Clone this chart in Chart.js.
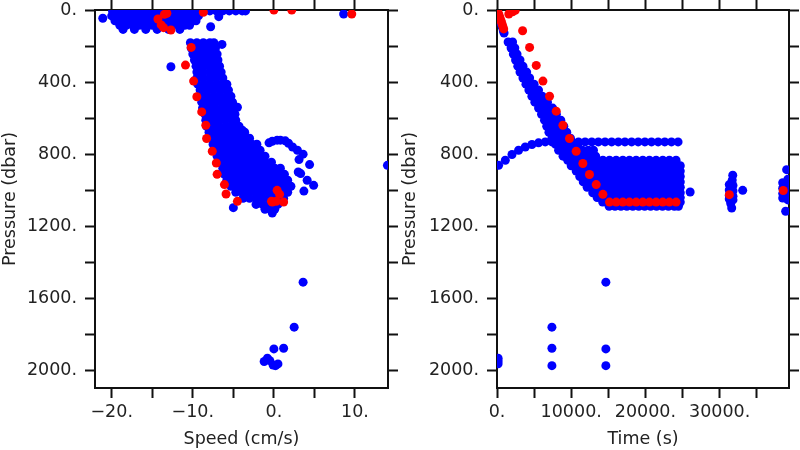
<!DOCTYPE html>
<html>
<head>
<meta charset="utf-8">
<script src="https://cdn.jsdelivr.net/npm/chart.js@4.4.1/dist/chart.umd.min.js"></script>
<style>
  body { margin: 0; background: #fff; }
  .panel { position: absolute; top: 0; width: 400px; height: 450px; }
</style>
</head>
<body>
<div class="panel" style="left:0"><canvas id="speedChart" width="400" height="450"></canvas></div>
<div class="panel" style="left:400px"><canvas id="timeChart" width="400" height="450"></canvas></div>
<script>
// tick marks
const pressureTicks = [0, 200, 400, 600, 800, 1000, 1200, 1400, 1600, 1800, 2000];
const speedTicks = [-20, -15, -10, -5, 0, 5, 10];
const timeTicks = [0, 5000, 10000, 15000, 20000, 25000, 30000, 35000];

// ---- left panel: speed vs pressure ----
// rows: [pressure, speed, speed, ...]
const surfaceRows = [
  [5, -19.9, -19.1, -18.3, -17.5, -16.7, -15.9, -15.1, -14.3, -13.5, -12.7, -11.9, -11.1, -10.3, -9.5, -8.7, -7.9, -7.1, -6.3, -5.5, -4.7, -3.9, -3.5],
  [33, -20.0, -19.2, -18.4, -17.6, -16.8, -16.0, -15.2, -14.4, -13.6, -12.8, -12.0, -11.2, -10.4, -9.6, -9.3],
  [60, -19.6, -18.8, -18.0, -17.2, -16.4, -15.6, -14.8, -14.0, -13.2, -12.4, -11.6, -10.8, -10.0, -9.6],
  [85, -19.0, -18.2, -17.4, -16.6, -15.8, -15.0, -14.2, -13.4, -12.6, -11.8, -11.0, -10.4],
  [108, -18.6, -17.2, -15.8, -14.4, -13.0, -11.6]
];
const columnRows = [
  [182, -10.3, -9.5, -8.7, -7.9, -7.4],
  [211, -10.2, -9.4, -8.6, -7.8, -7.2],
  [245, -10.0, -9.2, -8.4, -7.6, -7.0],
  [278, -9.8, -9.0, -8.2, -7.4, -6.9],
  [312, -9.6, -8.8, -8.0, -7.2, -6.7],
  [345, -9.5, -8.7, -7.9, -7.1, -6.5],
  [378, -9.5, -8.7, -7.9, -7.1, -6.3],
  [412, -9.4, -8.6, -7.8, -7.0, -6.2, -5.8],
  [445, -9.1, -8.3, -7.5, -6.7, -5.9, -5.6],
  [479, -9.0, -8.2, -7.4, -6.6, -5.8, -5.3],
  [512, -8.9, -8.1, -7.3, -6.5, -5.7, -5.1],
  [545, -8.8, -8.0, -7.2, -6.4, -5.6, -4.9],
  [579, -8.5, -7.7, -6.9, -6.1, -5.3, -4.8],
  [612, -8.4, -7.6, -6.8, -6.0, -5.2, -4.7],
  [646, -8.3, -7.5, -6.7, -5.9, -5.1, -4.3],
  [679, -8.0, -7.2, -6.4, -5.6, -4.8, -4.0, -3.6],
  [712, -7.8, -7.0, -6.2, -5.4, -4.6, -3.8, -3.0],
  [746, -7.5, -6.7, -5.9, -5.1, -4.3, -3.5, -2.7, -2.1],
  [779, -7.3, -6.5, -5.7, -4.9, -4.1, -3.3, -2.5, -1.7],
  [812, -7.0, -6.2, -5.4, -4.6, -3.8, -3.0, -2.2, -1.4, -1.1],
  [846, -6.7, -5.9, -5.1, -4.3, -3.5, -2.7, -1.9, -1.1, -0.3],
  [879, -6.3, -5.5, -4.7, -3.9, -3.1, -2.3, -1.5, -0.7, 0.1, 0.8],
  [913, -6.1, -5.3, -4.5, -3.7, -2.9, -2.1, -1.3, -0.5, 0.3, 1.1, 1.3],
  [946, -5.8, -5.0, -4.2, -3.4, -2.6, -1.8, -1.0, -0.2, 0.6, 1.4, 1.7],
  [979, -5.3, -4.5, -3.7, -2.9, -2.1, -1.3, -0.5, 0.3, 1.1, 1.9, 2.1],
  [1013, -4.7, -3.9, -3.1, -2.3, -1.5, -0.7, 0.1, 0.9, 1.7],
  [1046, -3.8, -3.0, -2.2, -1.4, -0.6, 0.2, 1.0, 1.2],
  [1080, -2.2, -1.4, -0.6, 0.2, 0.5],
  [1107, -1.1, -0.3, 0.1]
];
const speedExtraX = [-21.1, -7.8, -6.8, 8.6, -12.7, -6.4, -4.5, -3.9, -0.6, -0.2, 0.4, 0.8, 1.4, 1.8, 2.3, 2.9, 3.6, 3.1, 3.0, 4.4, 3.3, 4.1, 4.9, 3.7, 14.0, -5.0, -0.2];
const speedExtraP = [46, 93, 37, 22, 315, 191, 540, 668, 738, 729, 723, 723, 727, 740, 761, 779, 801, 831, 900, 859, 909, 946, 974, 1006, 863, 1098, 1128];
const speedDeepX = [3.6, 2.5, 1.2, 0.0, -1.2, -0.8, -0.5, -0.1, 0.5, 0.2];
const speedDeepP = [1512, 1762, 1879, 1883, 1953, 1935, 1948, 1972, 1966, 1976];
const speedRedX = [-14.3, -13.5, -13.2, -13.9, -13.6, -12.7, -8.7, 0, 2.2, 9.6,
  -10.2, -10.9, -9.9, -9.5, -8.9, -8.4, -8.3, -7.6, -7.1, -7.0, -6.1, -5.9, -4.5,
  0.4, 0.7, -0.2, 0.3, 1.2, -0.3];
const speedRedP = [50, 24, 18, 83, 98, 111, 13, 0, 0, 22,
  208, 306, 395, 482, 566, 640, 714, 785, 850, 913, 970, 1022, 1063,
  1002, 1024, 1067, 1063, 1067, 1063];

// ---- right panel: time vs pressure ----
// rows: [pressure, time, time, ...]
const bandRows = [
  [178, 1500, 2100],
  [211, 1900, 2400],
  [245, 2200, 2700],
  [278, 2500, 3100],
  [312, 2800, 3500],
  [345, 3100, 3700, 4000],
  [378, 3500, 4100, 4400],
  [412, 3900, 4500, 5000],
  [445, 4300, 5000, 5600],
  [479, 4700, 5400, 6100],
  [512, 5100, 5900, 6800],
  [545, 5600, 6300, 7000, 7500],
  [579, 6000, 6700, 7400, 8000],
  [612, 6400, 7100, 7800, 8600],
  [646, 6700, 7500, 8300, 9000],
  [679, 7000, 7800, 8600, 9400],
  [712, 7400, 8200, 9000, 9900],
  [746, 7900, 8700, 9500, 10300, 10900],
  [779, 8300, 9100, 9900, 10700, 11500, 12300, 13000],
  [812, 8900, 9700, 10500, 11300, 12100, 12900, 13300]
];
const blobRows = [
  [835, 9530, 10300, 11100, 11900, 12700, 13500, 14270, 15160, 16060, 16960, 17850, 18750, 19650, 20540, 21440, 22340, 23230, 24130],
  [865, 10000, 10800, 11600, 12400, 13200, 14000, 14800, 15600, 16400, 17200, 18000, 18800, 19600, 20400, 21200, 22000, 22800, 23600, 24300, 24700],
  [895, 10670, 11570, 12460, 13370, 14270, 15160, 16060, 16960, 17850, 18750, 19650, 20540, 21440, 22340, 23230, 24130, 24700],
  [925, 11150, 11900, 12700, 13500, 14300, 15100, 15900, 16700, 17500, 18300, 19100, 19900, 20700, 21500, 22300, 23100, 23900, 24700],
  [955, 11620, 12460, 13370, 14270, 15160, 16060, 16960, 17850, 18750, 19650, 20540, 21440, 22340, 23230, 24130, 24700],
  [985, 12150, 12900, 13700, 14500, 15300, 16100, 16900, 17700, 18500, 19300, 20100, 20900, 21700, 22500, 23300, 24100, 24700],
  [1015, 12900, 13370, 14270, 15160, 16060, 16960, 17850, 18750, 19650, 20540, 21440, 22340, 23230, 24130, 24700],
  [1042, 13500, 14300, 15100, 15900, 16700, 17500, 18300, 19100, 19900, 20700, 21500, 22300, 23100, 23900, 24700],
  [1067, 14240, 15160, 16060, 16960, 17850, 18750, 19650, 20540, 21440, 22340, 23230, 24130, 24700],
  [1090, 15110, 15900, 16700, 17500, 18300, 19100, 19900, 20700, 21500, 22300, 23100, 23900, 24450]
];
const streakT = [100, 250, 400, 550, 700, 850, 950];
const streakP = [15, 35, 55, 75, 95, 115, 128];
const arcT = [215, 1120, 2020, 2910, 3810, 4710, 5600, 6500, 7400, 8290, 9190, 10080, 10980, 11870, 12770, 13660,
  14560, 15450, 16350, 17240, 18140, 19030, 19930, 20820, 21720, 22610, 23510, 24400];
const arcP = [863, 835, 803, 779, 761, 747, 738, 733, 733, 733, 733, 733, 733, 733, 733, 733,
  733, 733, 733, 733, 733, 733, 733, 733, 733, 733, 733, 733];
const clusterT = [26030, 31300, 31300, 31300, 31300, 31800, 31800, 31800, 31800, 31770, 31700, 31630, 31500, 33110,
  38500, 38500, 38500, 38500, 39200, 39200, 39200, 39200, 39200, 39030, 38900];
const clusterP = [1011, 970, 1000, 1030, 1050, 975, 1005, 1035, 1055, 918, 945, 1100, 1075, 1002,
  960, 990, 1020, 1045, 940, 970, 1000, 1030, 1055, 887, 1118];
const timeDeepT = [14670, 7400, 7400, 14670, 7400, 14670, 150, 150, 150];
const timeDeepP = [1512, 1762, 1879, 1883, 1976, 1976, 1935, 1950, 1965];
const timeRedT = [0, 150, 300, 420, 540, 660, 780, 900, 1590, 2100, 2460,
  3450, 4390, 5290, 6190, 7080, 7980, 8880, 9770, 10670, 11570, 12460, 13370, 14270,
  15160, 16060, 16960, 17850, 18750, 19650, 20540, 21440, 22340, 23230, 24130, 31310, 38580];
const timeRedP = [0, 15, 30, 45, 60, 75, 90, 105, 22, 10, 2,
  115, 208, 308, 395, 479, 562, 640, 714, 785, 853, 914, 970, 1024,
  1067, 1067, 1067, 1067, 1067, 1067, 1067, 1067, 1067, 1067, 1067, 1026, 1003];

function rowsToPoints(rows) {
  return rows.flatMap(r => r.slice(1).map(v => ({ x: v, y: r[0] })));
}
function pairsToPoints(xs, ys) {
  return xs.map((v, i) => ({ x: v, y: ys[i] }));
}

Chart.defaults.font.family = '"DejaVu Sans", sans-serif';
Chart.defaults.font.size = 17.5;
Chart.defaults.color = '#222';

const inkColor = '#111';
const gridOpts = { drawOnChartArea: false, drawTicks: true, tickLength: 10, tickWidth: 2, tickColor: inkColor };
const borderOpts = { display: true, width: 2, color: inkColor };

function fmtNum(v) {
  return (v < 0 ? '\u2212' + Math.abs(v) : String(v)) + '.';
}

function dotSet(points, color) {
  return {
    data: points,
    backgroundColor: color,
    borderWidth: 0,
    pointRadius: 4.5,
    pointHoverRadius: 4.5,
    clip: 0
  };
}

// fixed box sizes so the plot area sits where the reference has it
function fixSize(w, h) {
  return s => {
    if (w !== null) s.width = w;
    if (h !== null) s.height = h;
    s.paddingTop = 0; s.paddingBottom = 0; s.paddingLeft = 0; s.paddingRight = 0;
  };
}

function buildChart(id, red, blue, xMin, xMax, xTicks, labelEvery, xTitle, leftW, rightW) {
  const setTicks = list => s => { s.ticks = list.map(v => ({ value: v })); };
  return new Chart(document.getElementById(id), {
    type: 'scatter',
    data: { datasets: [dotSet(red, '#ff0000'), dotSet(blue, '#0000ff')] },
    options: {
      responsive: false,
      animation: false,
      events: [],
      layout: { padding: 0 },
      plugins: { legend: { display: false }, tooltip: { enabled: false } },
      scales: {
        x: {
          type: 'linear', position: 'bottom', min: xMin, max: xMax,
          afterBuildTicks: setTicks(xTicks),
          afterFit: fixSize(null, 62),
          ticks: { padding: 4, maxRotation: 0, autoSkip: false,
                   callback: v => (v % labelEvery === 0 ? fmtNum(v) : '') },
          grid: gridOpts, border: borderOpts,
          title: { display: true, text: xTitle, padding: 0 }
        },
        x2: {
          type: 'linear', axis: 'x', position: 'top', min: xMin, max: xMax,
          afterBuildTicks: setTicks(xTicks),
          afterFit: fixSize(null, 10),
          ticks: { display: false },
          grid: gridOpts, border: borderOpts
        },
        y: {
          type: 'linear', position: 'left', reverse: true, min: 0, max: 2100,
          afterBuildTicks: setTicks(pressureTicks),
          afterFit: fixSize(leftW, null),
          ticks: { padding: 8, autoSkip: false,
                   callback: v => (v % 400 === 0 ? fmtNum(v) : '') },
          grid: gridOpts, border: borderOpts,
          title: { display: true, text: 'Pressure (dbar)', padding: 0 }
        },
        y2: {
          type: 'linear', axis: 'y', position: 'right', reverse: true, min: 0, max: 2100,
          afterBuildTicks: setTicks(pressureTicks),
          afterFit: fixSize(rightW, null),
          ticks: { display: false },
          grid: gridOpts, border: borderOpts
        }
      }
    }
  });
}

const speedBlue = rowsToPoints(surfaceRows)
  .concat(rowsToPoints(columnRows))
  .concat(pairsToPoints(speedExtraX, speedExtraP))
  .concat(pairsToPoints(speedDeepX, speedDeepP));
const speedRed = pairsToPoints(speedRedX, speedRedP);

const timeBlue = pairsToPoints(streakT, streakP)
  .concat(rowsToPoints(bandRows))
  .concat(rowsToPoints(blobRows))
  .concat(pairsToPoints(arcT, arcP))
  .concat(pairsToPoints(clusterT, clusterP))
  .concat(pairsToPoints(timeDeepT, timeDeepP));
const timeRed = pairsToPoints(timeRedT, timeRedP);

buildChart('speedChart', speedRed, speedBlue, -22.06, 14.07, speedTicks, 10, 'Speed (cm/s)', 95, 12);
buildChart('timeChart', timeRed, timeBlue, 0, 39350, timeTicks, 10000, 'Time (s)', 97, 11);
</script>
</body>
</html>
